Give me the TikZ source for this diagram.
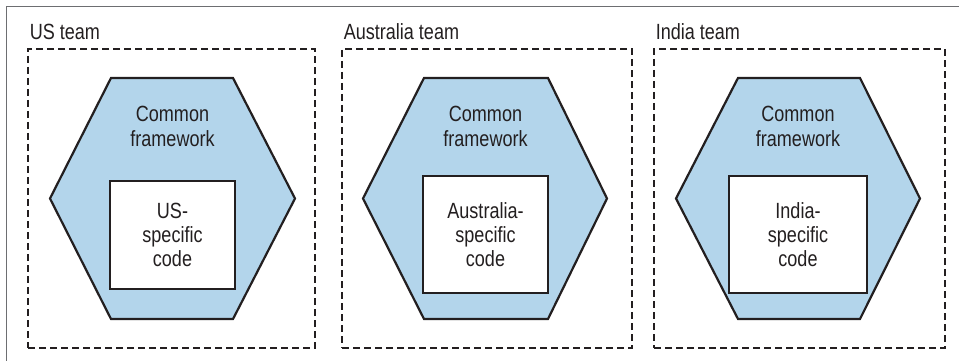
\documentclass[tikz,border=0pt]{standalone}
\usepackage{fontspec}
\setmainfont{Liberation Sans}[FakeStretch=0.82]
\usetikzlibrary{positioning}
\definecolor{ink}{HTML}{231F20}
\definecolor{frame}{HTML}{6D6E71}
\definecolor{fwblue}{HTML}{B3D5EB}

\begin{document}
\begin{tikzpicture}[
  x=1pt, y=-1pt,
  font=\fontsize{22}{25}\selectfont, line width=2.2pt, text=ink,
  teambox/.style={draw=ink, dash pattern=on 7pt off 4pt, line width=2.6pt, minimum width=#1, minimum height=299pt, inner sep=0pt},
  teamlbl/.style={anchor=base west, inner sep=0pt},
  hexa/.style={draw=ink, fill=fwblue, line join=miter},
  fwtext/.style={align=center, inner sep=0pt},
  codebox/.style={draw=ink, fill=white, line width=2.4pt, align=center,
    font=\fontsize{22}{24}\selectfont, inner sep=0pt}]
\useasboundingbox (0,0) rectangle (959,361);

% page frame (top and left edge only)
\draw[frame, line width=1pt] (959,7) -- (6,7) -- (6,361);

% column 1: US team
\node[teambox=287pt] (usbox) at (171.5,198.5) {};
\node[teamlbl] (uslbl) at ([xshift=2pt,yshift=8.5pt]usbox.north west) {US team};
\draw[hexa] (111,78) -- ++(122,0) -- ++(62,120.5) -- ++(-62,120.5) -- ++(-122,0) -- ++(-61,-120.5) -- cycle;
\node[fwtext] (usfw) at (172.5,126) {Common\\framework};
\node[codebox, minimum width=125pt, minimum height=108pt] (uscode) at (172.5,235) {US-\\specific\\code};

% column 2: Australia team
\node[teambox=290pt] (aubox) at (487,198.5) {};
\node[teamlbl] (aulbl) at ([xshift=2pt,yshift=8.5pt]aubox.north west) {Australia team};
\draw[hexa] (424,78) -- ++(124,0) -- ++(59,120.5) -- ++(-59,120.5) -- ++(-124,0) -- ++(-61,-120.5) -- cycle;
\node[fwtext] (aufw) at (485.5,126) {Common\\framework};
\node[codebox, minimum width=125pt, minimum height=117pt] (aucode) at (485.5,234.5) {Australia-\\specific\\code};

% column 3: India team
\node[teambox=291pt] (inbox) at (799.5,198.5) {};
\node[teamlbl] (inlbl) at ([xshift=2pt,yshift=8.5pt]inbox.north west) {India team};
\draw[hexa] (738,78) -- ++(122,0) -- ++(60,120.5) -- ++(-60,120.5) -- ++(-122,0) -- ++(-62,-120.5) -- cycle;
\node[fwtext] (infw) at (798,126) {Common\\framework};
\node[codebox, minimum width=138pt, minimum height=117pt] (incode) at (798,234.5) {India-\\specific\\code};
\end{tikzpicture}
\end{document}
